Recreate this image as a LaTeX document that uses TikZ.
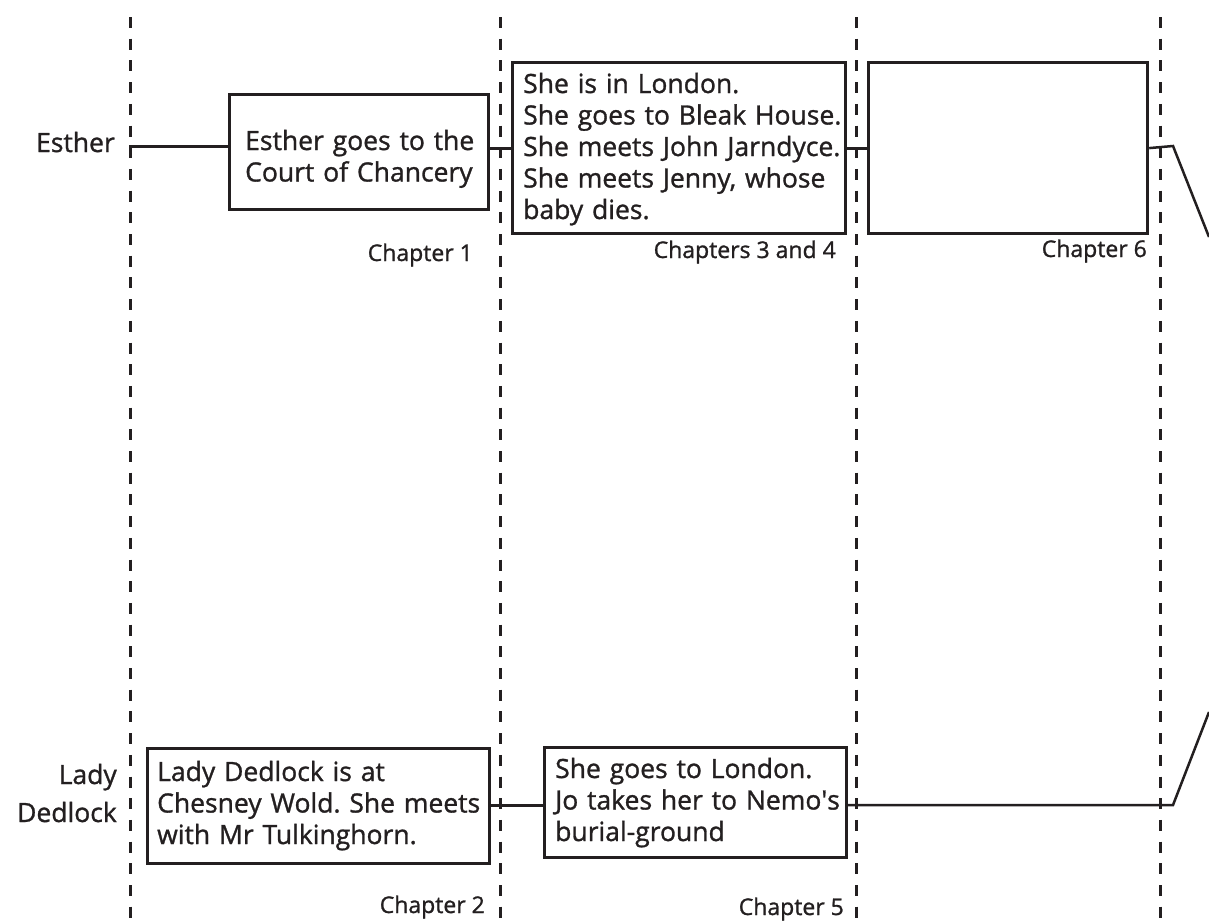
\documentclass[tikz,border=0pt]{standalone}
\usepackage{fontspec}
\setmainfont{Open Sans}[FakeBold=1.1]
\newfontfamily\plainfont{Open Sans}[FakeBold=1.1]
\definecolor{ink}{RGB}{35,31,32}
\begin{document}
\frenchspacing
\begin{tikzpicture}[x=1pt,y=-1pt,
  divider/.style={ink, line width=3pt, dash pattern=on 11pt off 10.7pt},
  evbox/.style={draw=ink, line width=3.2pt, inner sep=0pt, anchor=north west},
  evtext/.style={ink, inner sep=0pt, anchor=base west, align=left, font=\fontsize{26.5}{31.5}\selectfont},
  who/.style={ink, inner sep=0pt, anchor=base east, align=right, text width=130pt, font=\fontsize{26.5}{38}\selectfont},
  chap/.style={ink, inner sep=0pt, anchor=base east, font=\fontsize{23}{28}\selectfont},
  link/.style={ink, line width=3pt},
  slant/.style={ink, line width=2.5pt, line join=miter}]
\useasboundingbox (0,0) rectangle (1209,921);
\fill[white] (0,0) rectangle (1209,921);
% dashed dividers
\draw[divider] (130,17) -- (130,921);
\draw[divider] (500,17) -- (500,921);
\draw[divider] (856,17) -- (856,921);
\draw[divider] (1160,17) -- (1160,921);
% character labels
\node[who] (esther) at (115,152) {Esther};
\node[who] (lady) at (117,784) {Lady\\Dedlock};
% Esther's boxes
\node[evbox, minimum width=259pt, minimum height=115pt] (e1) at (228,93) {};
\node[evbox, minimum width=333pt, minimum height=171pt] (e2) at (511,61) {};
\node[evbox, minimum width=279pt, minimum height=171pt] (e3) at (867,61) {};
\node[evtext, text width=250pt] (e1t) at (245,150) {Esther goes to the\\Court of Chancery};
\node[evtext, text width=320pt] (e2t) at (523,93) {She is in London.\\She goes to Bleak House.\\She meets John Jarndyce.\\She meets Jenny, whose\\baby dies.};
% Lady Dedlock's boxes
\node[evbox, minimum width=342pt, minimum height=115pt] (l1) at (146,747) {};
\node[evbox, minimum width=302pt, minimum height=110pt] (l2) at (543,746) {};
\node[evtext, text width=330pt] (l1t) at (157,781) {Lady Dedlock is at\\Chesney Wold. She meets\\with Mr Tulkinghorn.};
\node[evtext, text width=290pt] (l2t) at (555,778) {She goes to London.\\Jo takes her to Nemo{\plainfont'}s\\burial-ground};
% chapter labels
\node[chap] (c1) at (473,261) {Chapter 1};
\node[chap] (c34) at (836,258) {Chapters 3 and 4};
\node[chap] (c6) at (1147,257) {Chapter 6};
\node[chap] (c2) at (485,913) {Chapter 2};
\node[chap] (c5) at (844,915) {Chapter 5};
% Esther's line
\coordinate (es) at (129,146);
\coordinate (et) at (1173,146);
\coordinate (eo) at (1209,237);
\draw[link] (es) -- (es -| e1.west);
\draw[link] (e1.east |- e2.west) -- (e2.west);
\draw[link] (e2.east) -- (e3.west);
\draw[slant] (e3.east) -- (et) -- (eo);
% Lady Dedlock's line
\coordinate (ly) at (1173,805);
\coordinate (lo) at (1209,712);
\draw[link] (l1.east |- ly) -- (l2.west |- ly);
\draw[slant] (l2.east |- ly) -- (ly) -- (lo);
\end{tikzpicture}
\end{document}
